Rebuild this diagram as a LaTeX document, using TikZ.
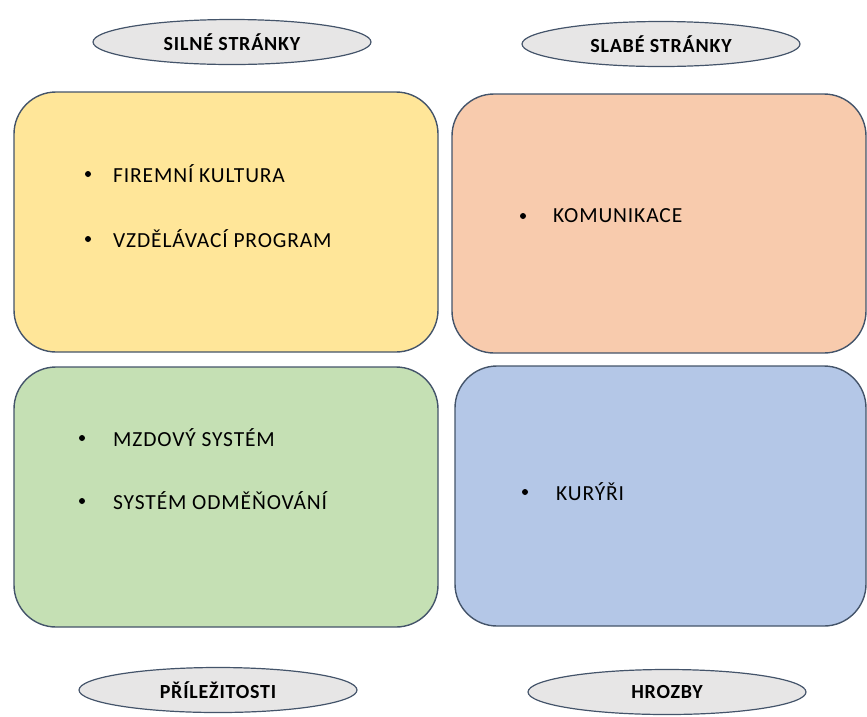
\documentclass[tikz,border=0pt]{standalone}
\usepackage{fontspec}
\setmainfont{Carlito}
\usetikzlibrary{shapes.geometric}
\definecolor{yel}{HTML}{FFE699}
\definecolor{ora}{HTML}{F8CBAD}
\definecolor{gre}{HTML}{C5E0B4}
\definecolor{blu}{HTML}{B4C7E7}
\definecolor{ell}{HTML}{E7E6E6}
\definecolor{edge}{HTML}{44546A}
\newfontfamily\spaced[LetterSpace=4]{Carlito}
\tikzset{
  quad/.style={draw=edge, line width=1.4pt, rounded corners=42pt},
  lab/.style={ellipse, draw=edge, line width=1.2pt, fill=ell, minimum width=278pt, minimum height=45pt, inner sep=0pt, font=\spaced\fontsize{20}{22}\selectfont\bfseries},
  item/.style={anchor=west, inner sep=0pt, font=\spaced\fontsize{21.5}{24}\selectfont},
  dot/.style={circle, fill=black, inner sep=0pt, minimum size=6pt}
}
\begin{document}
\begin{tikzpicture}[x=1pt,y=-1pt]
\useasboundingbox (0,0) rectangle (867,716);
\draw[quad, fill=yel] (14,92) rectangle (438,352);
\draw[quad, fill=ora] (452,94) rectangle (866,353);
\draw[quad, fill=gre] (14,367) rectangle (438,627);
\draw[quad, fill=blu] (455,366) rectangle (866,626);
\node[lab] (s) at (232,42) {SILNÉ STRÁNKY};
\node[lab] (w) at (661,44) {SLABÉ STRÁNKY};
\node[lab] (o) at (218,690) {PŘÍLEŽITOSTI};
\node[lab] (t) at (667,692) {HROZBY};
\node[dot] (b1) at (88,174) {};
\node[item] (t1) at (113,174) {FIREMNÍ KULTURA};
\node[dot] (b2) at (88,239) {};
\node[item] (t2) at (113,239) {VZDĚLÁVACÍ PROGRAM};
\node[dot] (b3) at (523,216) {};
\node[item] (t3) at (553,216) {KOMUNIKACE};
\node[dot] (b4) at (82,438) {};
\node[item] (t4) at (113,438) {MZDOVÝ SYSTÉM};
\node[dot] (b5) at (82,501) {};
\node[item] (t5) at (113,501) {SYSTÉM ODMĚŇOVÁNÍ};
\node[dot] (b6) at (525,492) {};
\node[item] (t6) at (556,492) {KURÝŘI};
\end{tikzpicture}
\end{document}
